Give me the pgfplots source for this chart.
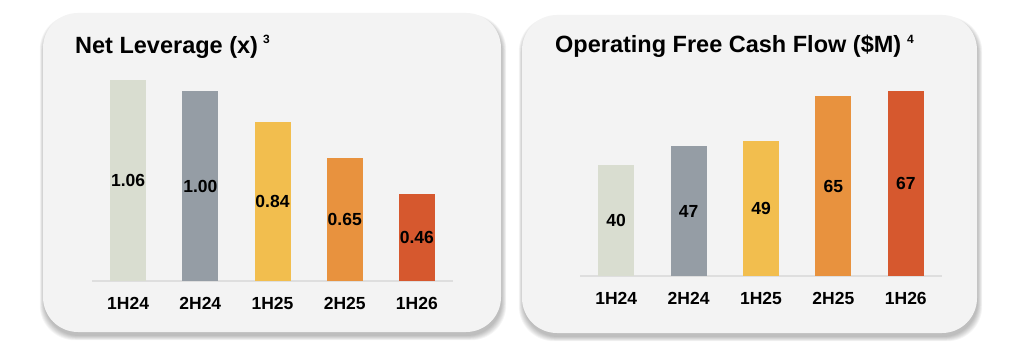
\documentclass[border=0pt]{standalone}
\usepackage{pgfplots}
\pgfplotsset{compat=1.18}
\usepackage{fontspec}
\setmainfont{Liberation Sans}
\definecolor{cA}{HTML}{D9DDD0}
\definecolor{cB}{HTML}{959DA5}
\definecolor{cC}{HTML}{F2BE4E}
\definecolor{cD}{HTML}{E8923E}
\definecolor{cE}{HTML}{D6582E}
\definecolor{panel}{HTML}{F3F3F3}
\definecolor{baseln}{HTML}{DEDEDE}
\pgfplotsset{
  panelbars/.style={
    scale only axis, ybar, bar shift=0pt, bar width=36pt,
    xmin=-0.5, xmax=4.5, ymin=0,
    xtick={0,1,2,3,4},
    xticklabels={1H24,2H24,1H25,2H25,1H26},
    axis x line*=bottom, axis y line=none,
    x axis line style={draw=baseln, line width=1.2pt, -},
    major tick length=0pt,
    xticklabel style={font=\fontsize{17.5}{17.5}\selectfont\bfseries, anchor=base, yshift=-28.5pt, inner sep=0pt},
    ytick=\empty,
    clip=false,
    nodes near coords,
    visualization depends on=y \as \rawy,
    every node near coord/.append style={font=\fontsize{17.5}{17.5}\selectfont\bfseries, anchor=center, shift={(axis direction cs:0,-\rawy/2)}, text=black},
    /pgf/number format/assume math mode=true,
  },
}
\newcommand{\panelbox}[4]{%
  \foreach \e in {0,1,2,3,4,5,6}{%
    \fill[black, opacity=0.04, rounded corners=35pt] ({#1-\e*0.7+1},{#2-4-\e*0.7}) rectangle ({#3+\e*0.7+1},{#4-4+\e*0.4});
  }%
  \fill[panel, rounded corners=35pt] (#1,#2) rectangle (#3,#4);
}
\begin{document}
\begin{tikzpicture}[x=1pt,y=1pt]
\path[use as bounding box, fill=white] (0,0) rectangle (1024,357);
\panelbox{43}{25}{501}{344}
\panelbox{522}{24}{977}{342}
\node[anchor=base west, inner sep=0pt, font=\fontsize{23.5}{23.5}\selectfont\bfseries] at (75,304) {Net Leverage (x)\hspace{5pt}\raisebox{9.5pt}{\fontsize{12}{12}\selectfont 3}};
\node[anchor=base west, inner sep=0pt, font=\fontsize{23.5}{23.5}\selectfont\bfseries] at (555,304.5) {Operating Free Cash Flow (\$M)\hspace{6pt}\raisebox{9pt}{\fontsize{12}{12}\selectfont 4}};
\begin{axis}[panelbars, at={(92pt,76pt)}, anchor=south west, width=361pt, height=227.5pt, ymax=1.2,
  /pgf/number format/fixed, /pgf/number format/fixed zerofill, /pgf/number format/precision=2]
\addplot[fill=cA, draw=none] coordinates {(0,1.06)};
\addplot[fill=cB, draw=none] coordinates {(1,1.00)};
\addplot[fill=cC, draw=none] coordinates {(2,0.84)};
\addplot[fill=cD, draw=none] coordinates {(3,0.65)};
\addplot[fill=cE, draw=none] coordinates {(4,0.46)};
\end{axis}
\begin{axis}[panelbars, at={(580pt,81pt)}, anchor=south west, width=362pt, height=221.2pt, ymax=80]
\addplot[fill=cA, draw=none] coordinates {(0,40)};
\addplot[fill=cB, draw=none] coordinates {(1,47)};
\addplot[fill=cC, draw=none] coordinates {(2,49)};
\addplot[fill=cD, draw=none] coordinates {(3,65)};
\addplot[fill=cE, draw=none] coordinates {(4,67)};
\end{axis}
\end{tikzpicture}
\end{document}
